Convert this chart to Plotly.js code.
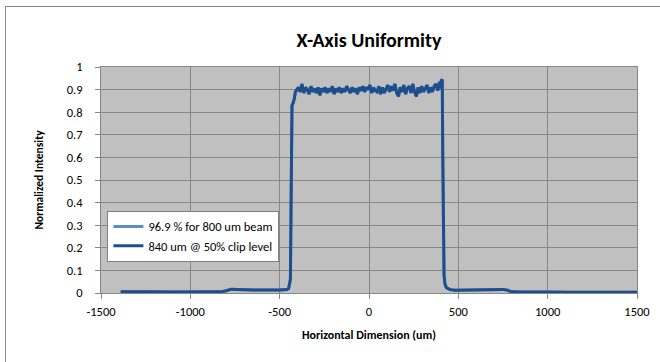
<!DOCTYPE html>
<html>
<head>
<meta charset="utf-8">
<script src="https://cdn.plot.ly/plotly-3.0.1.min.js"></script>
<style>
html,body{margin:0;padding:0;background:#fff;}
#wrap{position:relative;width:660px;height:362px;overflow:hidden;}
#chart{width:660px;height:362px;}
#frame{position:absolute;left:5px;top:6px;width:700px;height:400px;border-left:1px solid #8a8a8a;border-top:1px solid #8a8a8a;pointer-events:none;}
</style>
</head>
<body>
<div id="wrap"><div id="chart"></div><div id="frame"></div></div>
<script>
// Horizontal position (um)
const positionUm = [
  -1390,-1300,-1200,-1100,-1000,-900,-830,-800,-770,-740,-700,-650,-600,-550,-500,-460,
  -450,-440,-436,-433,-431,-425,-418,-412,-405,
  -395,-385,-375,-365,-355,-345,-335,-325,-315,-305,-295,-285,-275,-265,-255,-245,-235,-225,-215,-205,
  -195,-185,-175,-165,-155,-145,-135,-125,-115,-105,-95,-85,-75,-65,-55,-45,-35,-25,-15,-5,
  5,15,25,35,45,55,65,75,85,95,105,115,125,135,145,155,165,175,185,195,
  205,215,225,235,245,255,265,275,285,295,305,315,325,335,345,355,365,375,385,395,400,405,410,
  413,416,420,425,432,440,455,480,520,560,600,640,680,720,750,775,800,850,900,1000,1100,1200,1300,1400,1500
];
// Normalized intensity
const intensity = [
  0.006,0.004,0.005,0.004,0.005,0.004,0.005,0.010,0.017,0.016,0.014,0.013,0.013,0.012,0.013,0.015,
  0.020,0.060,0.300,0.700,0.830,0.840,0.860,0.890,0.900,
  0.910,0.890,0.925,0.885,0.910,0.900,0.880,0.915,0.890,0.905,0.885,0.910,0.875,0.905,0.890,0.910,0.885,0.905,0.890,0.915,
  0.880,0.905,0.890,0.910,0.885,0.905,0.890,0.915,0.900,0.885,0.910,0.890,0.905,0.880,0.910,0.895,0.915,0.890,0.910,0.900,
  0.920,0.885,0.910,0.895,0.890,0.915,0.880,0.910,0.885,0.905,0.920,0.890,0.915,0.895,0.925,0.885,0.870,0.910,0.890,0.920,
  0.880,0.905,0.915,0.885,0.925,0.890,0.870,0.910,0.885,0.915,0.890,0.905,0.920,0.885,0.910,0.890,0.915,0.925,0.895,0.935,0.905,0.940,0.945,
  0.600,0.200,0.080,0.040,0.025,0.020,0.015,0.012,0.013,0.011,0.012,0.013,0.014,0.017,0.016,0.012,0.005,0.004,0.003,0.004,0.003,0.004,0.003,0.003,0.003
];
const seriesNames = ["96.9 % for 800 um beam", "840 um @ 50% clip level"];
const seriesColors = ["#5b8cc6", "#1f4e8c"];
const xTicks = [-1500,-1000,-500,0,500,1000,1500];
const yTicks = [0,0.1,0.2,0.3,0.4,0.5,0.6,0.7,0.8,0.9,1];

const FONT = "Carlito, Lato, 'Open Sans', sans-serif";

const traces = seriesNames.map((n,i)=>({
  x: positionUm, y: intensity, type:'scatter', mode:'lines', name:n,
  line:{color:seriesColors[i], width:3}
}));

const layout = {
  width:660, height:362,
  margin:{l:101, r:23, t:67, b:69},
  paper_bgcolor:'rgba(0,0,0,0)',
  plot_bgcolor:'#c0c0c0',
  font:{family:FONT, size:12, color:'#000'},
  title:{text:'<b>X-Axis Uniformity</b>', font:{family:FONT, size:20, color:'#000'},
         x:0.5, xref:'paper', xanchor:'center', y:0.89, yref:'container', yanchor:'middle'},
  xaxis:{range:[-1500,1500], tickvals:xTicks, ticktext:xTicks.map(String),
         showgrid:true, gridcolor:'#878787', gridwidth:1, zeroline:false,
         showline:true, linecolor:'#878787', linewidth:1, mirror:true,
         ticks:'outside', ticklen:5, tickcolor:'#878787', tickfont:{size:12.5},
         ticklabelstandoff:2,
         title:{text:'<b>Horizontal Dimension (um)</b>', font:{size:12}, standoff:12}},
  yaxis:{range:[0,1], tickvals:yTicks, ticktext:yTicks.map(String),
         showgrid:true, gridcolor:'#878787', gridwidth:1, zeroline:false,
         showline:true, linecolor:'#878787', linewidth:1, mirror:true,
         ticks:'outside', ticklen:5, tickcolor:'#878787', tickfont:{size:12.5},
         ticklabelstandoff:10,
         title:{text:'<b>Normalized Intensity</b>', font:{size:11.5}, standoff:20}},
  showlegend:true,
  legend:{x:0.012, y:0.363, xanchor:'left', yanchor:'top', bgcolor:'#ffffff',
          bordercolor:'#7f7f7f', borderwidth:1, font:{size:12.5}, tracegroupgap:0,
          itemwidth:30}
};

Plotly.newPlot('chart', traces, layout, {displayModeBar:false, staticPlot:true});
</script>
</body>
</html>
